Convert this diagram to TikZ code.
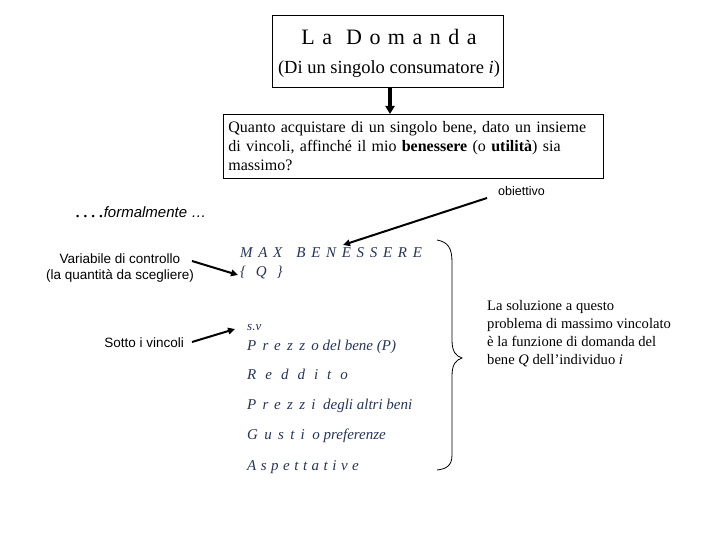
\documentclass[tikz,border=0pt]{standalone}
\usepackage{fontspec}
\setmainfont{Liberation Serif}
\setsansfont{Liberation Sans}
\usetikzlibrary{arrows.meta}
\definecolor{bluetxt}{RGB}{38,52,88}
\newcommand{\lspc}[2]{{\addfontfeature{LetterSpace=#1}#2}}
\tikzset{
  arr/.style={line width=2pt,-{Triangle[length=7pt,width=6.5pt]}},
  blu/.style={text=bluetxt,font=\fontsize{15}{18}\selectfont\itshape,anchor=base west,inner sep=0pt},
  lab/.style={font=\sffamily\fontsize{13.5}{16}\selectfont,inner sep=0pt},
}
\begin{document}
\begin{tikzpicture}[x=1pt,y=-1pt]
\useasboundingbox (0,0) rectangle (720,540);
% top box
\node[draw,line width=0.8pt,anchor=north west,minimum width=231pt,minimum height=72pt,inner sep=0pt] (top) at (272,15) {};
\node[anchor=base,inner sep=0pt,font=\fontsize{22}{26}\selectfont] (t1) at (389,45) {\lspc{34}{La}\hspace{14pt}\lspc{34}{Domanda}};
\node[anchor=base,inner sep=0pt,font=\fontsize{18.5}{22}\selectfont] (t2) at (389,74) {(Di un singolo consumatore \textit{i})};
% question box
\node[draw,line width=0.8pt,anchor=north west,minimum width=380pt,minimum height=64pt,text width=370pt,inner xsep=5pt,inner ysep=4pt,align=left,font=\fontsize{16}{19}\selectfont] (q) at (223,114)
 {Quanto acquistare di un singolo bene, dato un insieme\\
  di vincoli, affinché il mio \textbf{benessere} (o \textbf{utilità}) sia\\
  massimo?};
\coordinate (arrx) at (390,100);
\draw[line width=3.5pt,-{Triangle[length=8pt,width=9pt]}] (top.south -| arrx) -- (q.north -| arrx);
% obiettivo
\node[lab,font=\sffamily\fontsize{12.5}{15}\selectfont,anchor=west] (obi) at (498,191) {obiettivo};
\coordinate (obs) at (487,198);
\coordinate (obe) at (343,245);
\draw[arr] (obs) -- (obe);
% formalmente
\node[anchor=base west,inner sep=0pt] (form) at (75,218)
 {{\fontsize{21}{21}\selectfont\lspc{12}{....}}{\sffamily\itshape\fontsize{15}{16}\selectfont formalmente \ldots}};
% variabile
\node[lab,align=center] (var) at (120,268) {Variabile di controllo\\(la quantità da scegliere)};
\node[blu] (max) at (240,258) {\lspc{38}{MAX}\hspace{14pt}\lspc{38}{BENESSERE}};
\node[blu] (qq) at (240,276) {\lspc{40}{\{ Q \}}};
\coordinate (vs) at (192,261);
\coordinate (ve) at (238,275);
\draw[arr] (vs) -- (ve);
% sotto i vincoli
\node[lab,anchor=east] (sotto) at (184,343) {Sotto i vincoli};
\node[blu,font=\fontsize{13}{15}\selectfont\itshape] (sv) at (247,330) {s.v};
\coordinate (ss) at (192,342);
\coordinate (se) at (235,329);
\draw[arr] (ss) -- (se);
\node[blu] (p1) at (247,350) {\lspc{42}{Prezzo} del bene (P)};
\node[blu] (p2) at (247,379) {\lspc{60}{Reddito}};
\node[blu] (p3) at (247,409) {\lspc{42}{Prezzi} \ degli altri beni};
\node[blu] (p4) at (247,439) {\lspc{42}{Gusti} \ o preferenze};
\node[blu] (p5) at (247,470) {\lspc{30}{Aspettative}};
% brace
\draw[line width=0.8pt] (437,240) .. controls (448,242) and (452,248) .. (452,262)
  -- (452,340) .. controls (452,352) and (456,356) .. (462,358)
  .. controls (456,360) and (452,364) .. (452,376)
  -- (452,455) .. controls (452,466) and (446,469) .. (437,470);
% solution text
\node[anchor=north west,align=left,inner sep=0pt,font=\fontsize{14.6}{18}\selectfont] (sol) at (487,300)
 {La soluzione a questo\\
  problema di massimo vincolato\\
  è la funzione di domanda del\\
  bene \textit{Q} dell’individuo \textit{i}};
\end{tikzpicture}
\end{document}
